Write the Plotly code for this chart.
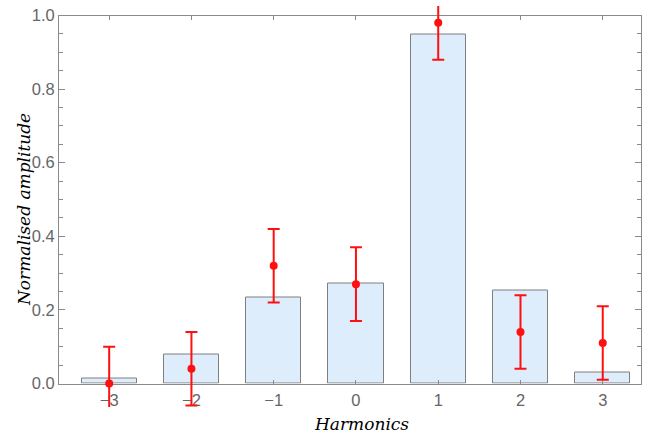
import numpy as np
import plotly.graph_objects as go

# Harmonic orders and their tick labels
harmonics = [-3, -2, -1, 0, 1, 2, 3]
tick_labels = ["−3", "−2", "−1", "0", "1", "2", "3"]

# Simulated (bars) and measured (points) normalised amplitudes
bar_amplitude = [0.014, 0.079, 0.234, 0.272, 0.948, 0.253, 0.029]
measured_amplitude = [0.00, 0.04, 0.32, 0.27, 0.98, 0.14, 0.11]
measured_error = [0.10, 0.10, 0.10, 0.10, 0.10, 0.10, 0.10]

# ---- page geometry (pixels) ----
W, H = 648, 438
frame_left, frame_right = 59, 641
frame_top, frame_bottom = 15.5, 383.5
clip_top, clip_bottom = 6, 407          # error bars may run a little past the frame

m_l, m_r = frame_left, W - frame_right
m_t, m_b = clip_top, H - clip_bottom
ph = clip_bottom - clip_top

# main frame occupies a sub-domain of the paper; the overlay subplot spans it all
d0 = (clip_bottom - frame_bottom) / ph
d1 = (clip_bottom - frame_top) / ph
y2_lo = -d0 / (d1 - d0)
y2_hi = 1 + (1 - d1) / (d1 - d0)

x_range = [-3.61, 3.465]
frame_col = "#8a8a8a"
label_col = "#666666"

fig = go.Figure()

fig.add_trace(go.Bar(
    x=harmonics, y=bar_amplitude, width=0.67,
    marker=dict(color="#deedfc", line=dict(color="#7f7f7f", width=1)),
    xaxis="x", yaxis="y", showlegend=False, hoverinfo="x+y",
))

fig.add_trace(go.Scatter(
    x=harmonics, y=measured_amplitude, mode="markers",
    marker=dict(color="#ff1010", size=8),
    error_y=dict(type="data", array=measured_error, color="#ff1010",
                 thickness=2, width=6),
    xaxis="x2", yaxis="y2", showlegend=False,
))

tick_font = dict(family="Liberation Sans, Arial, sans-serif", size=16.5, color=label_col)

fig.update_layout(
    width=W, height=H,
    margin=dict(l=m_l, r=m_r, t=m_t, b=m_b, pad=0, autoexpand=False),
    paper_bgcolor="white", plot_bgcolor="rgba(0,0,0,0)",
    bargap=0,
    xaxis=dict(
        range=x_range, domain=[0, 1], anchor="y", automargin=False,
        tickmode="array", tickvals=harmonics, ticktext=tick_labels,
        ticks="inside", ticklen=4, tickcolor=frame_col, tickwidth=1,
        showline=True, linecolor=frame_col, linewidth=1, mirror="ticks",
        showgrid=False, zeroline=False, tickfont=tick_font,
        ticklabelstandoff=2,
    ),
    yaxis=dict(
        range=[0, 1], domain=[d0, d1], anchor="x", automargin=False,
        tickmode="array", tickvals=[0, 0.2, 0.4, 0.6, 0.8, 1.0],
        ticktext=["0.0", "0.2", "0.4", "0.6", "0.8", "1.0"],
        ticks="inside", ticklen=6, tickcolor=frame_col, tickwidth=1,
        minor=dict(dtick=0.05, ticks="inside", ticklen=4, tickcolor=frame_col, showgrid=False),
        showline=True, linecolor=frame_col, linewidth=1, mirror="ticks",
        showgrid=False, zeroline=False, tickfont=tick_font,
    ),
    xaxis2=dict(range=x_range, domain=[0, 1], anchor="y2", visible=False,
                fixedrange=True, automargin=False),
    yaxis2=dict(range=[y2_lo, y2_hi], domain=[0, 1], anchor="x2", visible=False,
                fixedrange=True, automargin=False),
)

title_font = dict(family="DejaVu Serif, serif", size=17, color="black", style="italic")
pw = frame_right - frame_left

fig.add_annotation(
    text="Harmonics", xref="paper", yref="paper",
    x=(361 - frame_left) / pw, y=(clip_bottom - 424) / ph,
    xanchor="center", yanchor="middle", showarrow=False, font=title_font,
)
fig.add_annotation(
    text="Normalised amplitude", xref="paper", yref="paper",
    x=(24 - frame_left) / pw, y=(clip_bottom - 210) / ph,
    xanchor="center", yanchor="middle", textangle=-90, showarrow=False, font=title_font,
)

fig.write_html("out.html")
